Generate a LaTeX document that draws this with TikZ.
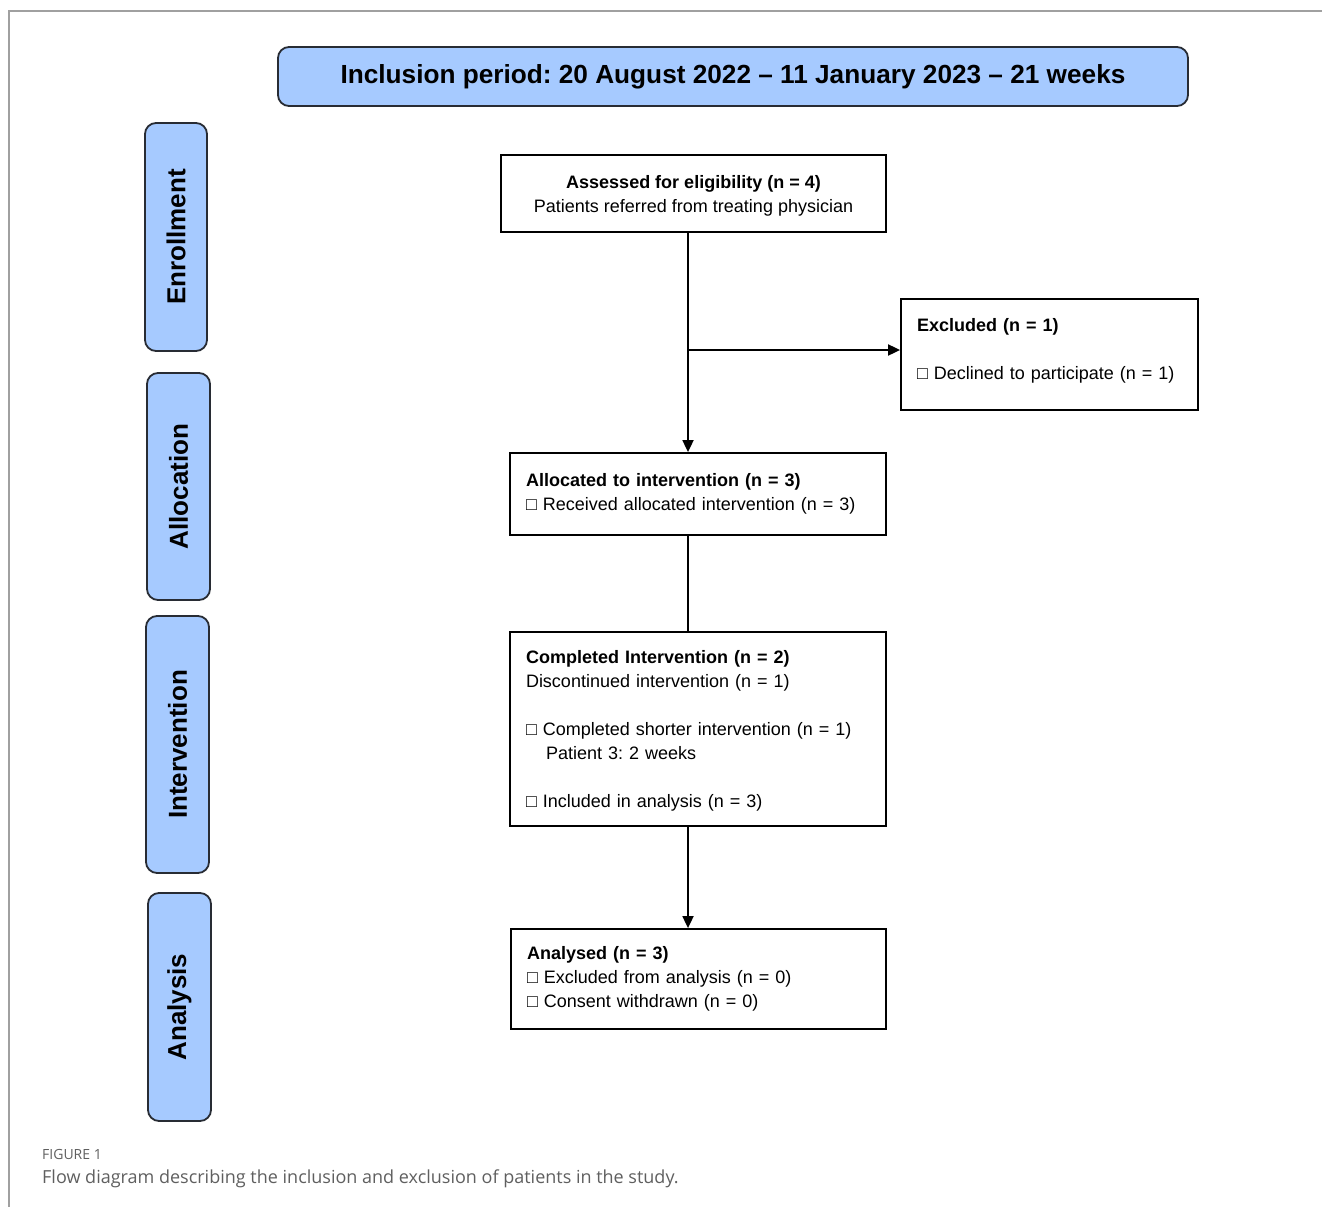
\documentclass[tikz,border=0pt]{standalone}
\usepackage{fontspec}
\setmainfont{Liberation Sans}
\newfontfamily\capfont{Open Sans}
\usetikzlibrary{arrows.meta}
\frenchspacing
\definecolor{sideblue}{RGB}{166,202,255}
\definecolor{edgedark}{RGB}{40,44,52}
\definecolor{framegray}{RGB}{160,160,160}
\definecolor{capgray}{RGB}{95,95,95}
\begin{document}
\begin{tikzpicture}[x=1pt,y=-1pt,
  bluebox/.style={draw=edgedark, line width=1.8pt, fill=sideblue, rounded corners=11pt, inner sep=0pt},
  sidelabel/.style={bluebox, rotate=90, font=\fontsize{26}{30}\selectfont\bfseries},
  flowbox/.style={draw=black, line width=1.8pt, inner xsep=16pt, inner ysep=0pt, align=left, font=\fontsize{18}{24}\selectfont},
  flowline/.style={draw=black, line width=1.8pt},
  flowarrow/.style={flowline, -{Triangle[length=12pt,width=11pt]}}
]
\useasboundingbox (0,0) rectangle (1322,1207);
% frame
\coordinate (ftl) at (9,11);
\coordinate (ftr) at (1322,11);
\coordinate (fbl) at (9,1207);
\draw[framegray, line width=1.3pt] (ftr) -- (ftl) -- (fbl);

% banner
\node[bluebox, minimum width=910pt, minimum height=59pt, font=\fontsize{26.2}{30}\selectfont\bfseries] (banner) at (733,76.5)
  {Inclusion period: 20 August 2022 -- 11 January 2023 -- 21 weeks};

% side labels
\node[sidelabel, minimum width=228pt, minimum height=62pt] (enr) at (176,237) {Enrollment};
\node[sidelabel, minimum width=227pt, minimum height=63pt] (allocl) at (178.5,486.5) {Allocation};
\node[sidelabel, minimum width=257pt, minimum height=63pt] (intl) at (177.5,744.5) {Intervention};
\node[sidelabel, minimum width=228pt, minimum height=63pt] (anal) at (179.5,1007) {Analysis};

% flow boxes
\node[flowbox, align=center, minimum width=385pt, minimum height=77pt] (assess) at (693.5,193.5)
  {\rule{0pt}{17pt}\textbf{Assessed for eligibility (n = 4)}\\Patients referred from treating physician};
\node[flowbox, text width=265pt, minimum height=111pt] (excl) at (1049.5,354.5)
  {\textbf{Excluded (n = 1)}\\[24pt]□ Declined to participate (n = 1)\rule[-12pt]{0pt}{1pt}};
\node[flowbox, text width=344pt, minimum height=82pt] (alloc) at (698,494)
  {\textbf{Allocated to intervention (n = 3)}\\□ Received allocated intervention (n = 3)};
\node[flowbox, text width=344pt, minimum height=194pt] (comp) at (698,729)
  {\rule{0pt}{16pt}\textbf{Completed Intervention (n = 2)}\\Discontinued intervention (n = 1)\\[24pt]□ Completed shorter intervention (n = 1)\\\hspace*{20pt}Patient 3: 2 weeks\\[24pt]□ Included in analysis (n = 3)};
\node[flowbox, text width=343pt, minimum height=100pt] (analysed) at (698.5,979)
  {\textbf{Analysed (n = 3)}\\□ Excluded from analysis (n = 0)\\□ Consent withdrawn (n = 0)};

% connectors
\coordinate (j) at (688,350);
\draw[flowarrow] (assess.south -| j) -- (alloc.north -| j);
\draw[flowarrow] (j) -- (j -| excl.west);
\draw[flowline] (alloc.south -| j) -- (comp.north -| j);
\draw[flowarrow] (comp.south -| j) -- (analysed.north -| j);

% caption
\node[anchor=base west, inner sep=0pt, text=capgray, font=\capfont\fontsize{14}{16}\selectfont] (figlab) at (42,1159) {FIGURE 1};
\node[anchor=base west, inner sep=0pt, text=capgray, font=\capfont\fontsize{18}{22}\selectfont] (cap) at (42,1183) {Flow diagram describing the inclusion and exclusion of patients in the study.};
\end{tikzpicture}
\end{document}
